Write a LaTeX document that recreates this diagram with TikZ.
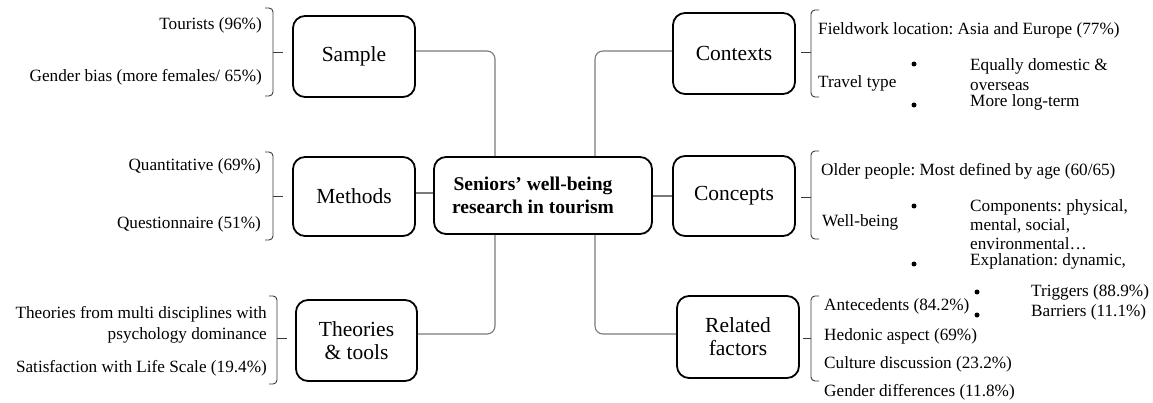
\documentclass[tikz,border=0pt]{standalone}
\usepackage{fontspec}
\setmainfont{Liberation Serif}
\definecolor{conncol}{HTML}{7A7A7A}
\definecolor{brccol}{HTML}{3A3A3A}
\begin{document}
\frenchspacing
\begin{tikzpicture}[x=1pt,y=-1pt,
  box/.style={draw=black, line width=1.8pt, rounded corners=12pt, minimum width=122pt,
    inner sep=0pt, align=center, font=\fontsize{21.5}{23}\selectfont},
  conn/.style={draw=conncol, line width=1.1pt, rounded corners=8pt},
  brc/.style={draw=brccol, line width=0.9pt, rounded corners=4pt},
  txt/.style={inner sep=0pt, font=\fontsize{17.2}{20}\selectfont, text height=0.7em, text depth=0.2em},
  mtxt/.style={inner sep=0pt, font=\fontsize{17.2}{20}\selectfont},
  bul/.style={circle, fill=black, draw=none, inner sep=0pt, minimum size=5pt}]
\useasboundingbox (0,0) rectangle (1153,403);

% boxes
\node[box, minimum height=81pt] (sample) at (354,56.5) {Sample};
\node[box, minimum height=79pt] (methods) at (354,196.5) {Methods};
\node[box, minimum height=81pt, minimum width=121pt] (theories) at (356.5,340.5) {Theories\\\& tools};
\node[box, minimum width=218pt, minimum height=77pt, font=\fontsize{19.5}{23}\selectfont\bfseries] (center) at (543,195.5)
  {Seniors’ well-being\hspace*{20pt}\\research in tourism\hspace*{20pt}};
\node[box, minimum height=81pt] (contexts) at (734,53.5) {Contexts};
\node[box, minimum height=80pt] (concepts) at (734,196) {Concepts};
\node[box, minimum height=82pt] (related) at (738,337) {Related\\factors};

% connectors
\draw[conn] ([yshift=5.5pt]sample.east) -| ([xshift=-48pt]center.north);
\draw[conn] ([xshift=52pt]center.north) |- ([yshift=2.5pt]contexts.west);
\draw[conn] ([yshift=3.5pt]methods.east) -- ([yshift=3.5pt]methods.east -| center.west);
\draw[conn] (concepts.west) -- (concepts.west -| center.east);
\draw[conn] ([xshift=-48pt]center.south) |- ([yshift=6.5pt]theories.east);
\draw[conn] ([xshift=52pt]center.south) |- ([yshift=3pt]related.west);

% braces left
\draw[brc] (265,8) -- (273,8) -- (273,96) -- (265,96);
\draw[brc] (273,52) -- (283,52);
\draw[brc] (265,152) -- (273,152) -- (273,240) -- (265,240);
\draw[brc] (273,196) -- (283,196);
\draw[brc] (269,296) -- (277,296) -- (277,384) -- (269,384);
\draw[brc] (277,338) -- (287,338);
% braces right
\draw[brc] (819,10) -- (811,10) -- (811,97) -- (819,97);
\draw[brc] (811,52) -- (801,52);
\draw[brc] (819,151) -- (811,151) -- (811,239) -- (819,239);
\draw[brc] (811,197) -- (801,197);
\draw[brc] (819,296) -- (811,296) -- (811,381) -- (819,381);
\draw[brc] (811,338) -- (803,338);

% left texts
\node[txt, anchor=east] (t1) at (262,27) {Tourists (96\%)};
\node[txt, anchor=east] (t2) at (262,79) {Gender bias (more females/ 65\%)};
\node[txt, anchor=east] (t3) at (261,168) {Quantitative (69\%)};
\node[txt, anchor=east] (t4) at (261,226) {Questionnaire (51\%)};
\node[mtxt, anchor=east, align=right, font=\fontsize{17.2}{21}\selectfont] (t5) at (267,324.5) {Theories from multi disciplines with\\psychology dominance};
\node[txt, anchor=east] (t6) at (267,370) {Satisfaction with Life Scale (19.4\%)};

% contexts texts
\node[txt, anchor=west] (c1) at (818,32) {Fieldwork location: Asia and Europe (77\%)};
\node[txt, anchor=west] (c2) at (818,85) {Travel type};
\node[bul] (cb1) at (914,64) {};
\node[bul] (cb2) at (914,105) {};
\node[mtxt, anchor=west, align=left] (c3) at (970,75) {Equally domestic \&\\overseas};
\node[txt, anchor=west] (c4) at (970,104) {More long-term};

% concepts texts
\node[txt, anchor=west] (k1) at (821,173) {Older people: Most defined by age (60/65)};
\node[txt, anchor=west] (k2) at (822,224) {Well-being};
\node[bul] (kb1) at (914,206) {};
\node[bul] (kb2) at (914,264) {};
\node[mtxt, anchor=west, align=left, font=\fontsize{17.2}{19}\selectfont] (k3) at (970,224.5) {Components: physical,\\mental, social,\\environmental…};
\node[txt, anchor=west] (k4) at (970,263) {Explanation: dynamic,};
\node[bul] (kb3) at (977,292) {};
\node[bul] (kb4) at (977,315) {};
\node[txt, anchor=west] (k5) at (1031,294) {Triggers (88.9\%)};
\node[txt, anchor=west] (k6) at (1031,314) {Barriers (11.1\%)};

% related texts
\node[txt, anchor=west] (f1) at (824,308) {Antecedents (84.2\%)};
\node[txt, anchor=west] (f2) at (824,338) {Hedonic aspect (69\%)};
\node[txt, anchor=west] (f3) at (824,366) {Culture discussion (23.2\%)};
\node[txt, anchor=west] (f4) at (824,394) {Gender differences (11.8\%)};
\end{tikzpicture}
\end{document}
